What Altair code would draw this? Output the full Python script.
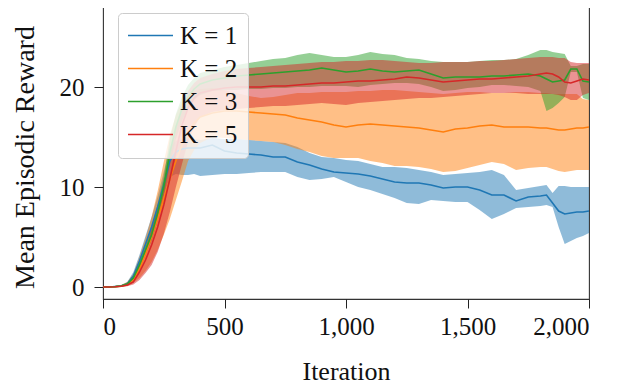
import altair as alt
import pandas as pd

# ---------------- data ----------------
ITER = [0, 25, 50, 75, 100, 125, 150, 175, 200, 225, 250, 275, 300, 325, 350, 375, 400,
        450, 500, 550, 600, 650, 700, 750, 800, 850, 900, 950, 1000, 1050, 1100, 1150, 1200,
        1250, 1300, 1350, 1400, 1450, 1500, 1550, 1600, 1650, 1700, 1750, 1800,
        1825, 1850, 1875, 1900, 1925, 1950, 1975, 2000]

SERIES = ["K = 1", "K = 2", "K = 3", "K = 5"]
COLORS = ["#1f77b4", "#ff7f0e", "#2ca02c", "#d62728"]

K1_MEAN = [0.0, 0.0, 0.05, 0.1, 0.3, 1.1, 2.6, 4.3, 6.0, 8.0, 10.2, 12.6, 13.5, 13.8, 13.9, 13.9, 13.9,
           14.2, 13.6, 13.4, 13.3, 13.2, 13.0, 13.0, 12.5, 12.2, 11.8, 11.5, 11.4, 11.3, 11.1, 10.8, 10.5,
           10.4, 10.4, 10.2, 9.9, 10.0, 10.0, 9.7, 9.2, 9.2, 8.6, 9.0, 9.1,
           9.2, 8.4, 7.6, 7.3, 7.4, 7.5, 7.5, 7.6]
K1_LOW = [0.0, 0.0, 0.0, 0.05, 0.2, 0.8, 2.0, 3.6, 5.3, 7.2, 9.2, 11.0, 11.3, 11.2, 11.2, 11.3, 11.1,
          11.2, 11.3, 11.3, 11.4, 11.5, 11.5, 11.5, 11.0, 10.7, 10.8, 11.0, 10.5, 10.0, 9.7, 9.3, 8.9,
          8.4, 8.3, 8.7, 8.6, 8.5, 8.5, 7.7, 6.8, 7.3, 7.9, 8.0, 8.1,
          8.2, 8.0, 6.0, 4.3, 4.6, 4.9, 5.1, 5.4]
K1_HIGH = [0.0, 0.0, 0.1, 0.2, 0.5, 1.5, 3.2, 5.1, 7.0, 9.1, 11.5, 14.0, 14.6, 14.8, 14.9, 14.8, 14.7,
           14.9, 14.8, 14.8, 14.7, 14.6, 14.5, 14.4, 14.0, 13.4, 13.0, 12.9, 12.7, 12.6, 12.3, 12.0, 12.0,
           11.9, 11.7, 11.5, 11.2, 11.3, 11.4, 11.5, 11.7, 11.2, 9.7, 9.9, 10.1,
           10.2, 9.4, 10.1, 10.1, 10.0, 10.0, 10.0, 10.0]

K2_MEAN = [0.0, 0.0, 0.03, 0.08, 0.25, 0.7, 1.8, 3.3, 5.0, 6.8, 8.8, 10.8, 12.6, 14.2, 15.5, 16.4, 17.0,
           17.4, 17.6, 17.6, 17.5, 17.4, 17.3, 17.2, 16.9, 16.7, 16.5, 16.2, 16.0, 16.2, 16.3, 16.2, 16.1,
           16.0, 15.9, 15.7, 15.5, 15.8, 15.9, 16.1, 16.2, 16.0, 16.0, 16.0, 15.9,
           15.9, 15.8, 15.7, 15.7, 15.8, 15.9, 15.9, 16.0]
K2_LOW = [0.0, 0.0, 0.0, 0.02, 0.1, 0.4, 0.9, 1.6, 2.5, 3.7, 5.2, 6.8, 8.7, 10.6, 12.6, 13.7, 14.4,
          15.0, 14.9, 14.8, 14.7, 14.6, 14.5, 14.2, 13.8, 13.5, 13.1, 12.9, 12.9, 12.9, 12.6, 12.4, 12.1,
          12.1, 12.0, 11.8, 11.5, 11.6, 11.9, 12.2, 12.5, 12.3, 11.7, 11.9, 12.0,
          12.0, 11.8, 11.6, 11.5, 11.6, 11.7, 11.7, 11.7]
K2_HIGH = [0.0, 0.0, 0.1, 0.2, 0.5, 1.3, 3.0, 4.9, 7.0, 9.6, 12.5, 15.2, 17.2, 18.5, 19.2, 19.6, 19.8,
           19.9, 19.7, 19.4, 19.1, 18.9, 19.0, 19.2, 19.4, 19.4, 19.5, 19.5, 19.5, 19.6, 19.6, 19.7, 19.7,
           19.6, 19.5, 19.4, 19.3, 19.4, 19.5, 19.5, 19.4, 19.4, 19.5, 19.5, 19.4,
           19.4, 19.3, 19.3, 19.3, 19.3, 19.3, 18.8, 18.7]

K3_MEAN = [0.0, 0.0, 0.04, 0.1, 0.3, 0.9, 2.2, 3.7, 5.2, 7.4, 10.0, 13.4, 16.0, 17.8, 19.0, 19.8, 20.3,
           20.7, 20.9, 21.1, 21.2, 21.3, 21.4, 21.5, 21.6, 21.7, 21.9, 21.7, 21.5, 21.6, 21.8, 21.6, 21.5,
           21.6, 21.7, 21.3, 20.9, 21.0, 21.0, 21.0, 21.1, 21.1, 21.2, 21.3, 21.1,
           20.8, 20.5, 20.6, 20.7, 21.8, 21.8, 20.6, 20.5]
K3_LOW = [0.0, 0.0, 0.0, 0.05, 0.15, 0.6, 1.7, 3.2, 4.6, 6.6, 9.1, 12.2, 14.8, 16.6, 17.9, 18.7, 19.2,
          19.6, 19.7, 19.7, 19.8, 19.8, 19.9, 19.9, 20.0, 20.0, 20.1, 20.1, 20.1, 20.0, 20.2, 20.3, 20.4,
          20.4, 20.3, 20.0, 19.6, 19.7, 19.9, 20.0, 20.2, 20.2, 20.1, 20.0, 19.6,
          17.6, 17.9, 18.4, 19.0, 21.5, 21.5, 18.9, 18.7]
K3_HIGH = [0.0, 0.0, 0.1, 0.2, 0.45, 1.2, 2.6, 4.3, 6.0, 8.3, 11.0, 14.8, 17.3, 19.0, 20.2, 20.9, 21.4,
           21.7, 22.0, 22.2, 22.4, 22.6, 22.8, 22.9, 23.2, 23.4, 23.2, 23.0, 23.0, 23.2, 23.5, 23.3, 23.2,
           22.9, 22.8, 22.6, 22.5, 22.5, 22.5, 22.6, 22.7, 22.7, 22.8, 23.2, 23.7,
           23.7, 23.5, 23.4, 23.3, 22.1, 22.1, 22.3, 22.3]

K5_MEAN = [0.0, 0.0, 0.03, 0.08, 0.2, 0.5, 1.5, 2.7, 4.2, 6.0, 8.2, 10.8, 13.6, 16.2, 17.9, 18.9, 19.4,
           19.7, 19.9, 20.0, 20.0, 20.0, 20.1, 20.1, 20.2, 20.3, 20.4, 20.4, 20.5, 20.6, 20.6, 20.7, 20.8,
           21.0, 20.9, 20.7, 20.5, 20.6, 20.7, 20.8, 20.8, 20.9, 21.0, 21.1, 21.3,
           21.4, 21.3, 21.0, 20.5, 20.4, 20.6, 20.8, 20.7]
K5_LOW = [0.0, 0.0, 0.0, 0.02, 0.08, 0.25, 0.7, 1.4, 2.2, 3.5, 5.3, 7.5, 10.0, 12.3, 14.5, 16.0, 17.0,
          17.5, 17.7, 17.8, 17.9, 18.0, 18.1, 18.1, 18.2, 18.3, 18.4, 18.3, 18.2, 18.4, 18.5, 18.6, 18.7,
          18.8, 18.9, 18.9, 19.0, 19.1, 19.2, 19.3, 19.4, 19.4, 19.4, 19.3, 19.3,
          19.3, 19.3, 19.2, 19.0, 18.7, 18.7, 19.2, 19.4]
K5_HIGH = [0.0, 0.0, 0.06, 0.15, 0.35, 0.9, 2.0, 3.8, 5.8, 8.0, 10.4, 13.3, 16.0, 18.2, 19.6, 20.4, 20.9,
           21.3, 21.6, 21.8, 21.9, 22.0, 22.1, 22.2, 22.3, 22.4, 22.5, 22.5, 22.6, 22.6, 22.7, 22.7, 22.6,
           22.5, 22.4, 22.4, 22.5, 22.5, 22.5, 22.6, 22.6, 22.7, 22.8, 22.9, 23.0,
           23.0, 23.0, 22.9, 22.9, 22.5, 22.4, 22.4, 22.4]

X_TICKS = [0, 500, 1000, 1500, 2000]
Y_TICKS = [0, 10, 20]

MEANS = [K1_MEAN, K2_MEAN, K3_MEAN, K5_MEAN]
LOWS = [K1_LOW, K2_LOW, K3_LOW, K5_LOW]
HIGHS = [K1_HIGH, K2_HIGH, K3_HIGH, K5_HIGH]

rows = []
for name, m, lo, hi in zip(SERIES, MEANS, LOWS, HIGHS):
    for x, a, b, c in zip(ITER, m, lo, hi):
        rows.append({"iter": x, "mean": a, "lo": b, "hi": c, "series": name})
df = pd.DataFrame(rows)

FONT = "Liberation Serif"

xscale = alt.Scale(domain=[0, 2000], nice=False, zero=False)
yscale = alt.Scale(domain=[-1.2, 28.3], nice=False, zero=False)
cscale = alt.Scale(domain=SERIES, range=COLORS)

xaxis = alt.Axis(values=X_TICKS, format=",d", title="Iteration", grid=False, domain=False,
                 tickSize=9, tickColor="#222222", labelFontSize=25, labelPadding=6,
                 labelFont=FONT, labelColor="#111111", titleFont=FONT, titleFontSize=26,
                 titleFontWeight="normal", titleColor="#111111", titleX=243, titleY=72,
                 titleBaseline="middle")
yaxis = alt.Axis(values=Y_TICKS, title="Mean Episodic Reward", grid=False, domain=False,
                 tickSize=9, tickColor="#222222", labelFontSize=25, labelPadding=10,
                 labelFont=FONT, labelColor="#111111", titleFont=FONT, titleFontSize=28,
                 titleFontWeight="normal", titleColor="#111111", titleX=-78, titleY=153,
                 titleBaseline="middle", titleAngle=270)

base = alt.Chart(df)

layers = []
for name, col in zip(SERIES, COLORS):
    layers.append(
        base.transform_filter(alt.datum.series == name)
        .mark_area(color=col, opacity=0.5)
        .encode(
            x=alt.X("iter:Q", scale=xscale, axis=xaxis),
            y=alt.Y("lo:Q", scale=yscale, axis=yaxis),
            y2="hi:Q",
        )
    )

lines = base.mark_line(strokeWidth=1.6).encode(
    x=alt.X("iter:Q", scale=xscale, axis=xaxis),
    y=alt.Y("mean:Q", scale=yscale, axis=yaxis),
    color=alt.Color(
        "series:N", scale=cscale,
        legend=alt.Legend(
            title=None, orient="none", legendX=15, legendY=9,
            labelFont=FONT, labelFontSize=25, labelColor="#111111",
            symbolType="M-1.087,0L2.826,0", symbolSize=529, symbolStrokeWidth=1.6,
            labelOffset=27, padding=10, rowPadding=7,
            fillColor="rgba(255,255,255,0.8)", strokeColor="#cccccc", cornerRadius=4,
        ),
    ),
)
layers.append(lines)

chart = alt.layer(*layers).properties(
    width=486, height=295,
    padding={"left": 95, "top": -4, "right": 32, "bottom": 92},
    autosize=alt.AutoSizeParams(type="none"),
).configure_view(stroke="#333333", strokeWidth=1.1)

chart.save("out.html", embed_options={"renderer": "svg", "actions": False})
